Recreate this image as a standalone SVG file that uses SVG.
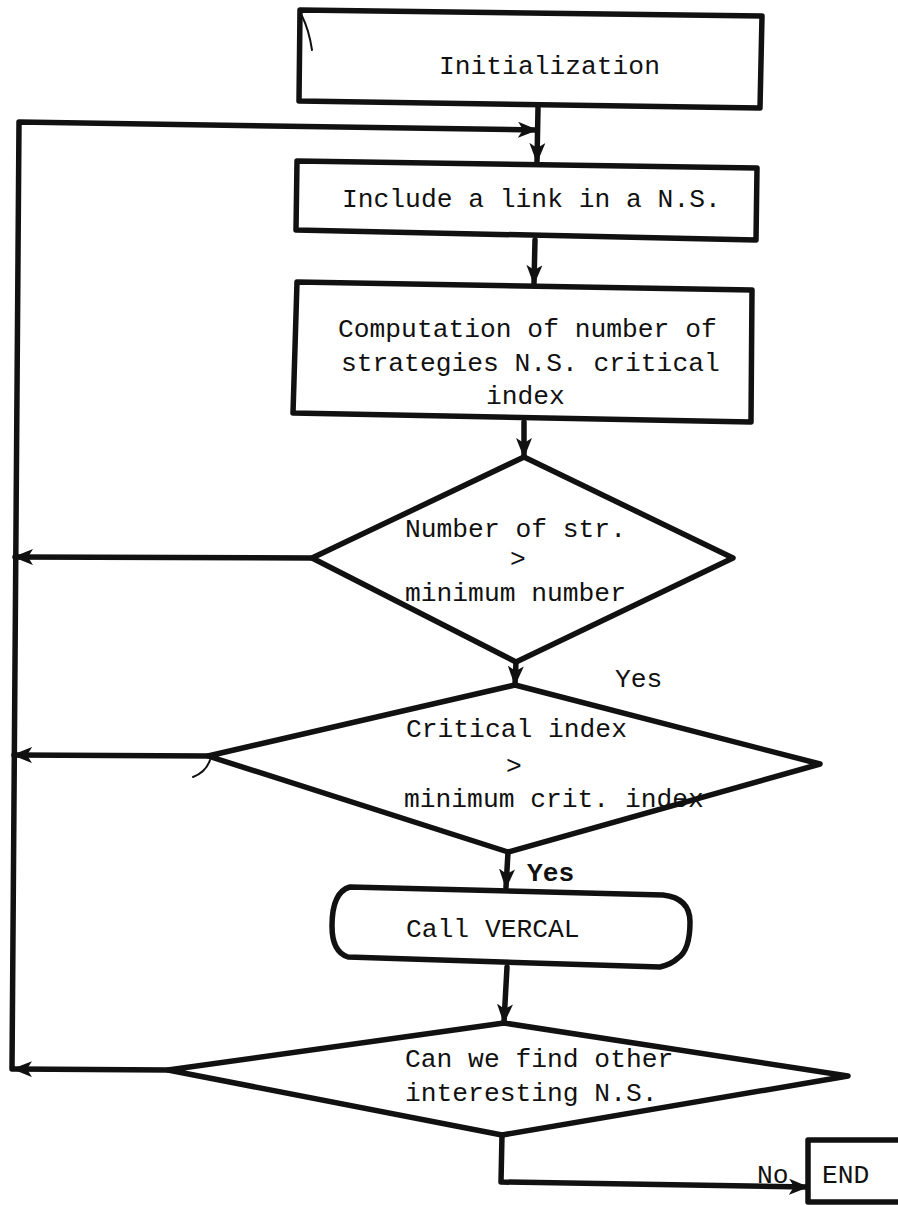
<svg xmlns="http://www.w3.org/2000/svg" width="898" height="1205" viewBox="0 0 898 1205">
  <style>
    .shape { fill: none; stroke: #111; stroke-width: 5.5; stroke-linejoin: round; stroke-linecap: round; }
    .line { fill: none; stroke: #111; stroke-width: 5.5; stroke-linejoin: round; stroke-linecap: round; }
    .mark { fill: none; stroke: #111; stroke-width: 2; stroke-linecap: round; }
    .lbl { font-family: "Liberation Mono", "DejaVu Sans Mono", monospace; font-size: 26.3px; fill: #111; }
    .bold { font-weight: bold; }
  </style>
  <defs>
    <marker id="arrow" viewBox="0 0 20 16" refX="18" refY="8" markerWidth="20" markerHeight="16" markerUnits="userSpaceOnUse" orient="auto">
      <path d="M0,0 L20,8 L0,16 L5,8 Z" fill="#111"/>
    </marker>
  </defs>

  <rect width="898" height="1205" fill="#fff"/>

  <!-- connectors -->
  <g id="connectors">
    <path class="line" d="M12,1069 L19,122 L536,130" marker-end="url(#arrow)"/>
    <path class="line" d="M538,108 L537,161" marker-end="url(#arrow)"/>
    <path class="line" d="M535,240 L534,283" marker-end="url(#arrow)"/>
    <path class="line" d="M524,422 L524,456" marker-end="url(#arrow)"/>
    <path class="line" d="M312,558 L15,557" marker-end="url(#arrow)"/>
    <path class="line" d="M516,662 L515,684" marker-end="url(#arrow)"/>
    <path class="line" d="M208,756 L14,755" marker-end="url(#arrow)"/>
    <path class="line" d="M508,852 L506,887" marker-end="url(#arrow)"/>
    <path class="line" d="M507,967 L504,1022" marker-end="url(#arrow)"/>
    <path class="line" d="M168,1070 L14,1069" marker-end="url(#arrow)"/>
    <path class="line" d="M502,1135 L501,1182 L807,1187" marker-end="url(#arrow)"/>
  </g>

  <g id="init">
    <path class="shape" d="M300,10 L762,16 L760,108 L299,101 Z"/>
    <path class="mark" d="M302,16 Q309,30 312,50"/>
    <text class="lbl" x="439" y="74">Initialization</text>
  </g>

  <g id="include">
    <path class="shape" d="M297,161 L757,168 L756,240 L296,230 Z"/>
    <text class="lbl" x="342" y="207">Include a link in a N.S.</text>
  </g>

  <g id="compute">
    <path class="shape" d="M297,282 L752,290 L751,422 L293,413 Z"/>
    <text class="lbl" x="338" y="337">Computation of number of</text>
    <text class="lbl" x="341" y="371">strategies N.S. critical</text>
    <text class="lbl" x="486" y="404">index</text>
  </g>

  <g id="test-strategies">
    <path class="shape" d="M524,457 L733,558 L516,662 L312,558 Z"/>
    <text class="lbl" x="405" y="537">Number of str.</text>
    <text class="lbl" x="510" y="567">&gt;</text>
    <text class="lbl" x="405" y="601">minimum number</text>
  </g>

  <g id="label-yes-1">
    <text class="lbl" x="615" y="687">Yes</text>
  </g>

  <g id="test-critical">
    <path class="shape" d="M515,685 L820,764 L508,852 L208,756 Z"/>
    <path class="mark" d="M210,760 Q206,772 193,777"/>
    <text class="lbl" x="406" y="737">Critical index</text>
    <text class="lbl" x="506" y="774">&gt;</text>
    <text class="lbl" x="404" y="807">minimum crit. index</text>
  </g>

  <g id="label-yes-2">
    <text class="lbl bold" x="527" y="881">Yes</text>
  </g>

  <g id="vercal">
    <path class="shape" d="M350,887 L663,895 Q690,898 690,922 Q690,950 678,958 Q672,964 660,967 L348,957 Q332,952 332,926 Q332,892 350,887 Z"/>
    <text class="lbl" x="406" y="937">Call VERCAL</text>
  </g>

  <g id="test-other">
    <path class="shape" d="M504,1023 L848,1076 L502,1135 L168,1070 Z"/>
    <text class="lbl" x="405" y="1067">Can we find other</text>
    <text class="lbl" x="405" y="1101">interesting N.S.</text>
  </g>

  <g id="label-no">
    <text class="lbl" x="757" y="1183">No</text>
  </g>

  <g id="end">
    <path class="shape" d="M905,1140 L808,1140 L808,1202 L905,1202"/>
    <text class="lbl" x="822" y="1183">END</text>
  </g>
</svg>
